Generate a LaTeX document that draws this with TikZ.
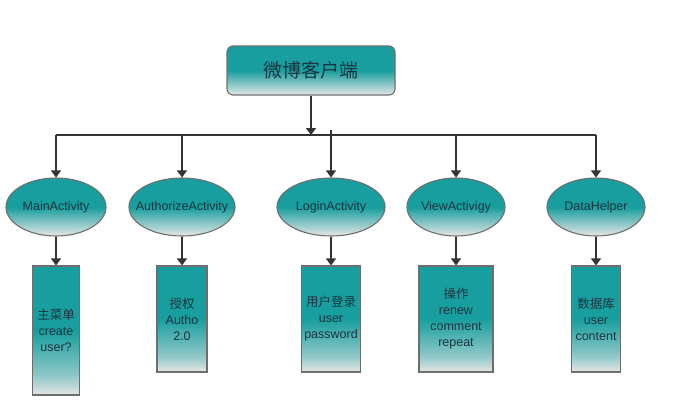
\documentclass[tikz,border=0pt]{standalone}
\usepackage{fontspec}
\setmainfont{Liberation Sans}
\newfontfamily\cjk{Noto Sans CJK SC}
\usetikzlibrary{arrows.meta,shapes.geometric}
\definecolor{fteal}{RGB}{24,158,158}
\definecolor{fgray}{RGB}{230,230,230}
\definecolor{edgegray}{RGB}{110,110,110}
\definecolor{linedark}{RGB}{51,51,51}
\definecolor{txt}{RGB}{28,52,64}
\pgfdeclareverticalshading{tealfade}{100bp}{color(0bp)=(fgray); color(25bp)=(fgray); color(50bp)=(fteal); color(100bp)=(fteal)}
\pgfdeclareverticalshading{tealfaderect}{100bp}{color(0bp)=(fgray); color(25bp)=(fgray); color(32bp)=(fgray!60!fteal); color(50bp)=(fteal); color(100bp)=(fteal)}
\tikzset{
  base/.style={draw=edgegray, line width=1.1pt, text=txt, inner sep=0pt, shading=tealfade},
  topbox/.style={base, rectangle, rounded corners=6pt, minimum width=168pt, minimum height=49pt, font=\cjk\fontsize{19}{22}\selectfont},
  oval/.style={base, ellipse, inner xsep=-14pt, minimum height=58pt, font=\fontsize{12.5}{15}\selectfont},
  leaf/.style={base, rectangle, shading=tealfaderect, minimum height=106pt, align=center, font=\fontsize{12.5}{16}\selectfont},
  conn/.style={draw=linedark, line width=1.5pt},
  arr/.style={conn, -{Triangle[width=10pt,length=7pt]}},
}
\begin{document}
\begin{tikzpicture}[x=1pt,y=-1pt]
\useasboundingbox (0,0) rectangle (677,408);
\node[topbox] (root) at (311,70.5) {微博客户端};
\node[oval, minimum width=100pt] (main) at (56,207) {MainActivity};
\node[oval, minimum width=106pt] (auth) at (182,207) {AuthorizeActivity};
\node[oval, minimum width=108pt] (login) at (331,207) {LoginActivity};
\node[oval, minimum width=98pt] (view) at (456,207) {ViewActivigy};
\node[oval, minimum width=98pt] (data) at (596,207) {DataHelper};
\node[leaf, minimum width=47pt, minimum height=129pt] (r1) at (56,330.5) {{\cjk 主菜单}\\create\\user?};
\node[leaf, minimum width=50pt] (r2) at (182,319) {{\cjk 授权}\\Autho\\2.0};
\node[leaf, minimum width=59pt] (r3) at (331,319) {{\cjk 用户登录}\\user\\password};
\node[leaf, minimum width=74pt] (r4) at (456,319) {{\cjk 操作}\\renew\\comment\\repeat};
\node[leaf, minimum width=49pt] (r5) at (596,319) {{\cjk 数据库}\\user\\content};
\coordinate (hub) at (311,135);
\coordinate (j1) at (56,135);
\coordinate (j2) at (182,135);
\coordinate (j3) at (331,130);
\coordinate (j4) at (456,135);
\coordinate (j5) at (596,135);
\draw[arr] (root.south) -- (hub);
\draw[conn] (j1) -- (j5);
\draw[arr] (j1) -- (main.north);
\draw[arr] (j2) -- (auth.north);
\draw[arr] (j3) -- (login.north);
\draw[arr] (j4) -- (view.north);
\draw[arr] (j5) -- (data.north);
\draw[arr] (main.south) -- (r1.north);
\draw[arr] (auth.south) -- (r2.north);
\draw[arr] (login.south) -- (r3.north);
\draw[arr] (view.south) -- (r4.north);
\draw[arr] (data.south) -- (r5.north);
\end{tikzpicture}
\end{document}
